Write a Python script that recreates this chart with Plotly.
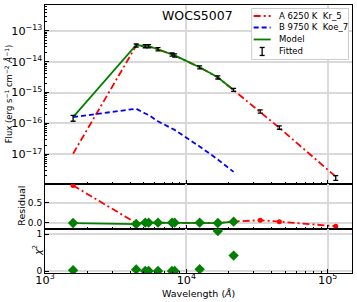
import plotly.graph_objects as go

# ---------------- data ----------------
wavelength = [1580, 4417, 5117, 5410, 6300, 7918, 8260, 12420, 16700, 21600, 33300, 45500, 114000]
flux_obs = [1.5e-16, 3.34e-14, 3.2e-14, 3.17e-14, 2.53e-14, 1.71e-14, 1.6e-14,
            6.6e-15, 3.1e-15, 1.23e-15, 2.45e-16, 7.4e-17, 1.74e-18]
flux_err = [3.2e-17, 4.0e-15, 3.8e-15, 3.8e-15, 3.0e-15, 2.0e-15, 1.9e-15,
            7.5e-16, 3.5e-16, 1.4e-16, 3.0e-17, 9.0e-18, 3.0e-19]
fit_wavelength = [1580, 4417, 5117, 5410, 6300, 7918, 8260, 12420, 16700, 21600]
model_flux = [1.6e-16, 3.46e-14, 3.2e-14, 3.17e-14, 2.53e-14, 1.71e-14, 1.6e-14,
              6.6e-15, 3.13e-15, 1.2e-15]
comp_a = [1.05e-17, 3.3e-14, 3.15e-14, 3.13e-14, 2.5e-14, 1.7e-14, 1.58e-14,
          6.55e-15, 3.1e-15, 1.2e-15, 2.3e-16, 7.2e-17, 1.9e-18]
comp_b = [1.6e-16, 3.0e-16, 2.1e-16, 1.88e-16, 1.17e-16, 6.8e-17, 6.2e-17,
          1.8e-17, 6.8e-18, 2.7e-18]
resid_model = [-0.01, -0.035, 0.0, 0.0, 0.0, 0.0, 0.0, 0.0, -0.01, 0.025]
resid_a = [0.93, -0.01, 0.0, 0.0, 0.0, 0.0, 0.0, 0.0, -0.01, 0.03, 0.06, 0.025, -0.09]
chi2 = [0.02, 0.04, 0.0, 0.0, 0.0, 0.0, 0.0, 0.05, 1.09, 0.42]

label_a = "A 6250 K  Kr_5"
label_b = "B 9750 K  Koe_7"
label_model = "Model"
label_fit = "Fitted"
star_name = "WOCS5007"

RED = "#ff0000"
BLUE = "#0000ff"
GREEN = "#008000"
GRID = "#d9d9d9"
FONT = "DejaVu Sans"
DASHDOT = "7px,3px,2px,3px"
DASHED = "5px,3px"

W, H = 357, 302
ML, MR, MT, MB = 45, 4.5, 4.5, 29.3
PW, PH = W - ML - MR, H - MT - MB


def px_x(px):
    return (px - ML) / PW


def px_y(py):
    return 1 - (py - MT) / PH


fig = go.Figure()

# ---------------- top panel ----------------
fig.add_trace(go.Scatter(x=wavelength, y=comp_a, mode="lines", name=label_a,
                         line=dict(color=RED, width=1.8, dash=DASHDOT),
                         xaxis="x", yaxis="y"))
fig.add_trace(go.Scatter(x=fit_wavelength, y=comp_b, mode="lines", name=label_b,
                         line=dict(color=BLUE, width=1.8, dash=DASHED),
                         xaxis="x", yaxis="y"))
fig.add_trace(go.Scatter(x=fit_wavelength, y=model_flux, mode="lines", name=label_model,
                         line=dict(color=GREEN, width=1.8),
                         xaxis="x", yaxis="y"))
fig.add_trace(go.Scatter(x=wavelength, y=flux_obs, mode="markers", name=label_fit,
                         marker=dict(color="rgba(0,0,0,0)", size=2),
                         error_y=dict(type="data", array=flux_err, visible=True,
                                      color="black", thickness=1.3, width=2.5),
                         xaxis="x", yaxis="y"))

# ---------------- residual panel ----------------
fig.add_trace(go.Scatter(x=wavelength, y=resid_a, mode="lines+markers",
                         line=dict(color=RED, width=1.8, dash=DASHDOT),
                         marker=dict(color=RED, size=5),
                         xaxis="x2", yaxis="y2"))
fig.add_trace(go.Scatter(x=fit_wavelength, y=resid_model, mode="lines+markers",
                         line=dict(color=GREEN, width=1.8),
                         marker=dict(color=GREEN, size=8, symbol="diamond"),
                         xaxis="x2", yaxis="y2"))

# ---------------- chi2 panel ----------------
fig.add_trace(go.Scatter(x=fit_wavelength, y=chi2, mode="markers",
                         marker=dict(color=GREEN, size=8, symbol="diamond"),
                         xaxis="x3", yaxis="y3"))

axis_common = dict(showline=True, linecolor="black", linewidth=1, mirror=True,
                   ticks="inside", ticklen=4, tickcolor="black", tickwidth=1,
                   showgrid=True, gridcolor=GRID, gridwidth=1.5, zeroline=False,
                   automargin=False,
                   tickfont=dict(family=FONT, size=9, color="black"))

xlog = dict(type="log", range=[3.0, 5.172], dtick=1, exponentformat="power",
            minor=dict(ticks="inside", ticklen=2, tickcolor="black", showgrid=False),
            **axis_common)

d1, d2 = 0.1655, 0.3333

fig.update_layout(
    width=W, height=H,
    margin=dict(l=ML, r=MR, t=MT, b=MB, autoexpand=False),
    paper_bgcolor="white", plot_bgcolor="white",
    font=dict(family=FONT, size=9, color="black"),
    showlegend=False,
    xaxis=dict(anchor="y", domain=[0, 1], showticklabels=False, **xlog),
    xaxis2=dict(anchor="y2", domain=[0, 1], matches="x", showticklabels=False, **xlog),
    xaxis3=dict(anchor="y3", domain=[0, 1], matches="x", showticklabels=True,
                ticklabelstandoff=-3, **xlog),
    yaxis=dict(anchor="x", domain=[d2, 1], type="log", range=[-17.95, -12.165],
               dtick=1, exponentformat="power",
               minor=dict(ticks="inside", ticklen=2, tickcolor="black", showgrid=False),
               **axis_common),
    yaxis2=dict(anchor="x2", domain=[d1, d2], range=[-0.15, 0.975],
                tickvals=[0, 0.5], ticktext=["0.0", "0.5"], **axis_common),
    yaxis3=dict(anchor="x3", domain=[0, d1], range=[-0.054, 1.155],
                tickvals=[0, 1], ticktext=["0", "1"], **axis_common),
)

# ---------------- legend (drawn by hand to match the compact matplotlib one) ----------------
fig.add_shape(type="rect", xref="paper", yref="paper",
              x0=px_x(252), x1=px_x(349), y0=px_y(59), y1=px_y(8),
              line=dict(color="#cccccc", width=1), fillcolor="white", layer="above")
leg_rows = [(label_a, RED, DASHDOT, 15.5), (label_b, BLUE, DASHED, 27),
            (label_model, GREEN, "solid", 39), (label_fit, "black", None, 51)]
for text, color, dash, ypix in leg_rows:
    if dash is not None:
        fig.add_shape(type="line", xref="paper", yref="paper",
                      x0=px_x(254), x1=px_x(271), y0=px_y(ypix), y1=px_y(ypix),
                      line=dict(color=color, width=1.8, dash=dash), layer="above")
    else:
        xc = px_x(262.5)
        fig.add_shape(type="line", xref="paper", yref="paper", x0=xc, x1=xc,
                      y0=px_y(ypix - 4), y1=px_y(ypix + 4),
                      line=dict(color="black", width=1.3), layer="above")
        for yy in (ypix - 4, ypix + 4):
            fig.add_shape(type="line", xref="paper", yref="paper",
                          x0=px_x(260), x1=px_x(265), y0=px_y(yy), y1=px_y(yy),
                          line=dict(color="black", width=1.3), layer="above")
    fig.add_annotation(text=text, xref="paper", yref="paper", x=px_x(277), y=px_y(ypix),
                       xanchor="left", yanchor="middle", showarrow=False,
                       font=dict(family=FONT, size=8.5, color="black"))

fig.add_annotation(text=star_name, xref="paper", yref="paper", x=px_x(198), y=px_y(15),
                   xanchor="center", yanchor="middle", showarrow=False,
                   font=dict(family=FONT, size=12.5, color="black"))
fig.add_annotation(text="Flux (erg s<sup>−1</sup> cm<sup>−2</sup> <i>Å</i><sup>−1</sup>)",
                   xref="paper", yref="paper", x=0, y=(d2 + 1) / 2, xshift=-36,
                   textangle=-90, xanchor="center", yanchor="middle", showarrow=False,
                   font=dict(family=FONT, size=8.5, color="black"))
fig.add_annotation(text="Residual", xref="paper", yref="paper", x=0, y=(d1 + d2) / 2,
                   xshift=-23.5, textangle=-90, xanchor="center", yanchor="middle",
                   showarrow=False, font=dict(family=FONT, size=9.5, color="black"))
fig.add_annotation(text="<i>χ</i><sup>2</sup>", xref="paper", yref="paper", x=0, y=d1 / 2,
                   xshift=-8, textangle=-90, xanchor="center", yanchor="middle",
                   showarrow=False, font=dict(family=FONT, size=9.5, color="black"))
fig.add_annotation(text="Wavelength (<i>Å</i>)", xref="paper", yref="paper", x=0.5, y=0,
                   yshift=-20, xanchor="center", yanchor="middle", showarrow=False,
                   font=dict(family=FONT, size=9.5, color="black"))

fig.write_html("out.html", config={"displayModeBar": False},
               post_script="document.body.style.margin='0';document.body.style.padding='0';")
